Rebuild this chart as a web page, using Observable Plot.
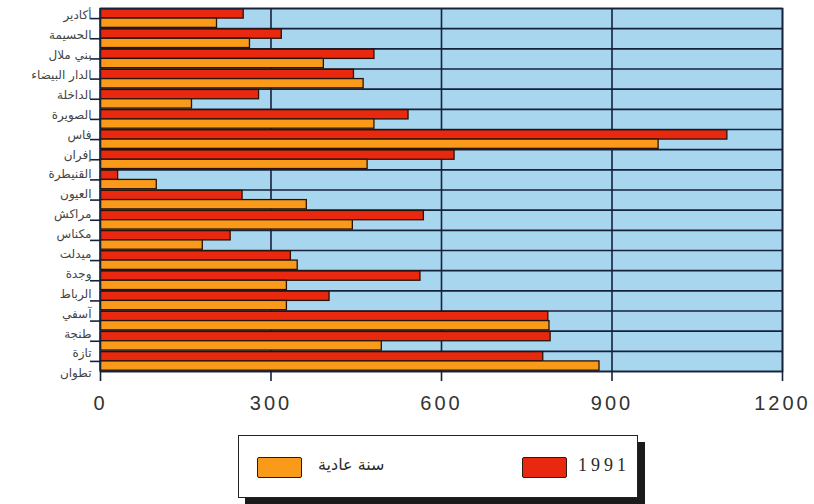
<!DOCTYPE html>
<html>
<head>
<meta charset="utf-8">
<script src="https://cdn.jsdelivr.net/npm/d3@7"></script>
<script src="https://cdn.jsdelivr.net/npm/@observablehq/plot@0.6"></script>
<style>
  html, body { margin: 0; padding: 0; background: #ffffff; }
  #wrap { position: relative; width: 814px; height: 504px; }
  #chart svg g[aria-label="x-axis tick label"] text { letter-spacing: 3px; }
  #legend {
    position: absolute; left: 238px; top: 435px; width: 398px; height: 61px;
    border: 1.5px solid #222; background: #fff; box-shadow: 7px 7px 0 #1b1b1b;
  }
  .sw { position: absolute; top: 21px; width: 43px; height: 19px; border: 1.5px solid #2a1a10; border-radius: 2px; }
  .lt { position: absolute; top: 19px; line-height: 24px; color: #2a2a2a; }
</style>
</head>
<body>
<div id="wrap">
  <div id="chart"></div>
  <div id="legend"></div>
</div>
<script>
// Category labels as printed on the y axis (top to bottom)
const cities = ["أكادير","الحسيمة","بني ملال","الدار البيضاء","الداخلة","الصويرة","فاس","إفران","القنيطرة","العيون","مراكش","مكناس","ميدلت","وجدة","الرباط","آسفي","طنجة","تازة","تطوان"];
// Bar values, top to bottom (18 bar pairs as drawn)
const values1991 = [252, 319, 482, 446, 279, 542, 1103, 623, 31, 250, 569, 229, 335, 563, 403, 788, 792, 779];
const valuesNormal = [205, 263, 393, 463, 161, 482, 982, 470, 99, 363, 444, 180, 347, 328, 328, 790, 495, 878];
const seriesNames = ["1991", "سنة عادية"];
const seriesColors = ["#e8290f", "#fa9a1a"];
const xTicks = [0, 300, 600, 900, 1200];

const navy = "#16213a";
const nBands = values1991.length;

const rows = [];
values1991.forEach((v, i) => rows.push({i, series: seriesNames[0], value: v}));
valuesNormal.forEach((v, i) => rows.push({i, series: seriesNames[1], value: v}));

const labelRows = cities.map((name, k) => ({name, k}));

const chart = Plot.plot({
  width: 814,
  height: 425,
  marginTop: 8,
  marginBottom: 54,
  marginLeft: 100,
  marginRight: 32,
  style: {background: "#ffffff", color: navy, fontFamily: "Liberation Sans, sans-serif"},
  x: {domain: [0, 1200], axis: null},
  y: {domain: [0, nBands], reverse: true, axis: null},
  color: {domain: seriesNames, range: seriesColors},
  marks: [
    Plot.frame({fill: "#a8d6ef", stroke: null}),
    Plot.ruleY(d3.range(nBands + 1), {stroke: navy, strokeWidth: 1.6}),
    Plot.ruleX(xTicks, {stroke: navy, strokeWidth: 1.6}),
    Plot.rectX(rows, {
      x1: 0,
      x2: "value",
      y1: d => d.i + (d.series === seriesNames[0] ? 0.04 : 0.5),
      y2: d => d.i + (d.series === seriesNames[0] ? 0.5 : 0.96),
      fill: "series",
      stroke: "#2a1208",
      strokeWidth: 1.3
    }),
    Plot.frame({stroke: navy, strokeWidth: 1.6}),
    Plot.axisX({
      ticks: xTicks, tickSize: 10, tickPadding: 14, fontSize: 20, label: null,
      stroke: navy, strokeWidth: 1.6, fill: "#333", tickFormat: d => String(d)
    }),
    Plot.axisY({
      ticks: d3.range(nBands).map(i => i + 0.5), tickSize: 10, tickFormat: () => "", label: null,
      stroke: navy, strokeWidth: 1.6
    }),
    Plot.text(labelRows, {
      x: 0,
      y: d => 0.35 + d.k * (nBands - 0.25) / (cities.length - 1),
      text: "name",
      textAnchor: "end",
      dx: -9,
      fontSize: 12,
      fontFamily: "DejaVu Sans",
      fill: "#444"
    })
  ]
});
document.getElementById("chart").appendChild(chart);

// Legend (HTML, below the SVG)
const legend = document.getElementById("legend");
const items = [
  {color: seriesColors[1], label: seriesNames[1], sw: 18, tx: 79, font: "16px 'DejaVu Sans'", ls: "0px"},
  {color: seriesColors[0], label: seriesNames[0], sw: 283, tx: 339, font: "18px 'Liberation Serif'", ls: "4px"}
];
items.forEach(it => {
  const s = document.createElement("div");
  s.className = "sw";
  s.style.left = it.sw + "px";
  s.style.background = it.color;
  legend.appendChild(s);
  const t = document.createElement("div");
  t.className = "lt";
  t.style.left = it.tx + "px";
  t.style.font = it.font;
  t.style.letterSpacing = it.ls;
  t.textContent = it.label;
  legend.appendChild(t);
});
</script>
</body>
</html>
